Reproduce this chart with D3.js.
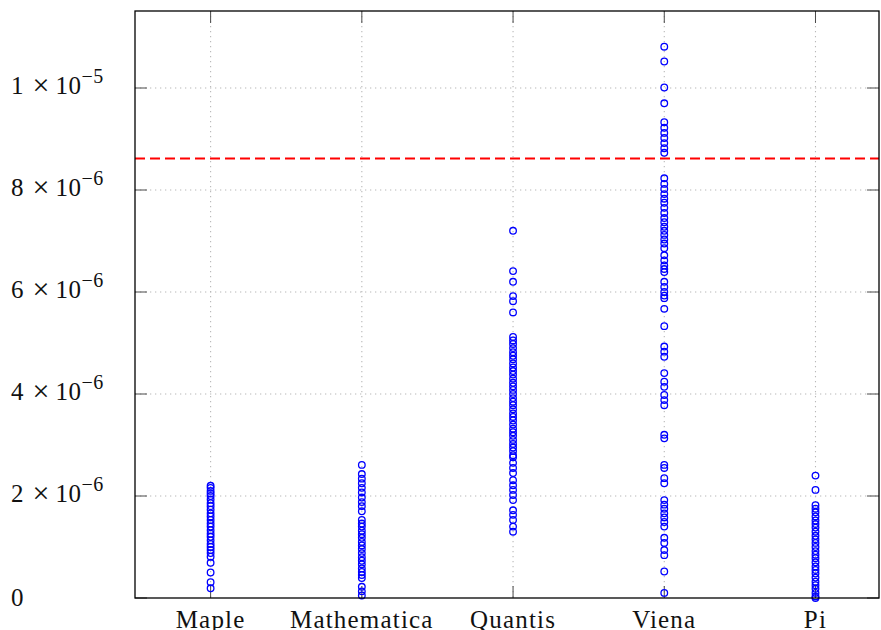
<!DOCTYPE html>
<html>
<head>
<meta charset="utf-8">
<script src="https://cdn.jsdelivr.net/npm/d3@7"></script>
<style>
  html, body { margin: 0; padding: 0; background: #ffffff; }
  svg { display: block; }
  text { font-family: "Liberation Serif", "DejaVu Serif", serif; fill: #111; }
</style>
</head>
<body>
<svg id="chart" width="881" height="630"></svg>
<script>
// ---- data (values in units of 1e-6) ----
const categories = ["Maple", "Mathematica", "Quantis", "Viena", "Pi"];
const maple = [2.20, 2.16, 2.10, 2.05, 2.00, 1.93, 1.86, 1.80, 1.73, 1.66, 1.60, 1.53, 1.46, 1.40,
  1.33, 1.26, 1.20, 1.13, 1.06, 1.00, 0.94, 0.88, 0.81, 0.69, 0.50, 0.31, 0.19];
const mathematica = [2.61, 2.43, 2.34, 2.25, 2.16, 2.07, 1.97, 1.88, 1.80, 1.70,
  1.53, 1.46, 1.40, 1.32, 1.25, 1.18, 1.10, 1.03, 0.96, 0.88, 0.80, 0.73, 0.66, 0.58, 0.51, 0.45, 0.39,
  0.22, 0.13, 0.05];
const quantis = [7.20, 6.41, 6.20, 5.92, 5.82, 5.60,
  5.12, 5.05, 4.98, 4.90, 4.82, 4.75, 4.68, 4.60, 4.52, 4.45, 4.38, 4.30, 4.22, 4.15, 4.08, 4.00,
  3.92, 3.85, 3.78, 3.70, 3.62, 3.55, 3.48, 3.40, 3.32, 3.25, 3.18, 3.10, 3.02, 2.95, 2.88, 2.80,
  2.76, 2.65, 2.55, 2.45, 2.31, 2.21, 2.12, 2.02, 1.92, 1.72, 1.63, 1.53, 1.40, 1.30];
const viena = [10.81, 10.52, 10.01, 9.70, 9.33, 9.22, 9.12, 9.02, 8.92, 8.82, 8.73,
  8.23, 8.12, 8.02, 7.92, 7.83, 7.75, 7.65, 7.55, 7.45, 7.37, 7.28, 7.20, 7.12, 7.03, 6.95, 6.86,
  6.72, 6.62, 6.52, 6.45, 6.39, 6.20, 6.10, 6.00, 5.93, 5.88, 5.67, 5.33,
  4.93, 4.83, 4.73, 4.41, 4.24, 4.14, 3.98, 3.88, 3.78, 3.20, 3.13, 2.61, 2.55, 2.35, 2.25,
  1.92, 1.83, 1.75, 1.66, 1.58, 1.49, 1.40, 1.18, 1.08, 0.94, 0.84, 0.52, 0.10];
const pi = [2.40, 2.12, 1.82, 1.75, 1.68, 1.60, 1.52, 1.45, 1.38, 1.30, 1.22, 1.15, 1.08, 1.00,
  0.92, 0.85, 0.78, 0.70, 0.62, 0.55, 0.48, 0.40, 0.32, 0.25, 0.18, 0.10, 0.03, 0.00];
const seriesValues = [maple, mathematica, quantis, viena, pi];
const threshold = 8.62;
const yTicks = [0, 2, 4, 6, 8, 10];
const yTickMantissa = ["0", "2", "4", "6", "8", "1"];
const yTickExponent = ["", "−6", "−6", "−6", "−6", "−5"];

// ---- layout ----
const L = 135, R = 879, T = 11, B = 598;
const svg = d3.select("#chart");
const x = d3.scaleLinear().domain([0.5, 5.42]).range([L, R]);
const y = d3.scaleLinear().domain([0, 11.51]).range([B, T]);
const xIdx = categories.map((c, i) => i + 1);

// grid
const grid = svg.append("g").attr("stroke", "#b8b8b8").attr("stroke-width", 1.1)
  .attr("stroke-dasharray", "1.3,3.7");
grid.selectAll("line.h").data(yTicks.filter(t => t > 0)).join("line")
  .attr("x1", L).attr("x2", R).attr("y1", d => y(d)).attr("y2", d => y(d));
grid.selectAll("line.v").data(xIdx).join("line")
  .attr("y1", T).attr("y2", B).attr("x1", d => x(d)).attr("x2", d => x(d));

// ticks (inward, all four sides)
const tk = 12;
const ticks = svg.append("g").attr("stroke", "#4a4a4a").attr("stroke-width", 1);
yTicks.forEach(t => {
  ticks.append("line").attr("x1", L).attr("x2", L + tk).attr("y1", y(t)).attr("y2", y(t));
  ticks.append("line").attr("x1", R).attr("x2", R - tk).attr("y1", y(t)).attr("y2", y(t));
});
xIdx.forEach(i => {
  ticks.append("line").attr("x1", x(i)).attr("x2", x(i)).attr("y1", B).attr("y2", B - tk);
  ticks.append("line").attr("x1", x(i)).attr("x2", x(i)).attr("y1", T).attr("y2", T + tk);
});

// points
const pts = svg.append("g").attr("fill", "none").attr("stroke", "#0000ff").attr("stroke-width", 1.3);
seriesValues.forEach((vals, i) => {
  pts.selectAll(null).data(vals).join("circle")
    .attr("cx", x(i + 1)).attr("cy", d => y(d)).attr("r", 3.3);
});

// threshold line
svg.append("line")
  .attr("x1", L).attr("x2", R).attr("y1", y(threshold)).attr("y2", y(threshold))
  .attr("stroke", "#ff0000").attr("stroke-width", 2).attr("stroke-dasharray", "10,5");

// frame
svg.append("rect").attr("x", L).attr("y", T).attr("width", R - L).attr("height", B - T)
  .attr("fill", "none").attr("stroke", "#000").attr("stroke-width", 1.3);

// y labels
yTicks.forEach((t, i) => {
  const g = svg.append("text").attr("x", 11)
    .attr("y", y(t) + (yTickExponent[i] ? 6 : 8))
    .attr("font-size", 25);
  if (!yTickExponent[i]) {
    g.text(yTickMantissa[i]);
  } else {
    g.append("tspan").text(yTickMantissa[i]);
    g.append("tspan").attr("dx", 9).attr("font-size", 30).attr("dy", 1).text("×");
    g.append("tspan").attr("dx", 6).attr("dy", -1).attr("letter-spacing", 0.5).text("10");
    g.append("tspan").attr("dy", -11).attr("dx", 0).attr("font-size", 20).attr("letter-spacing", 0.5)
      .text(yTickExponent[i]);
  }
});

// x labels
svg.append("g").selectAll("text").data(categories).join("text")
  .attr("x", (d, i) => x(i + 1)).attr("y", 628)
  .attr("text-anchor", "middle").attr("font-size", 25).attr("letter-spacing", 1.2)
  .text(d => d);
</script>
</body>
</html>
